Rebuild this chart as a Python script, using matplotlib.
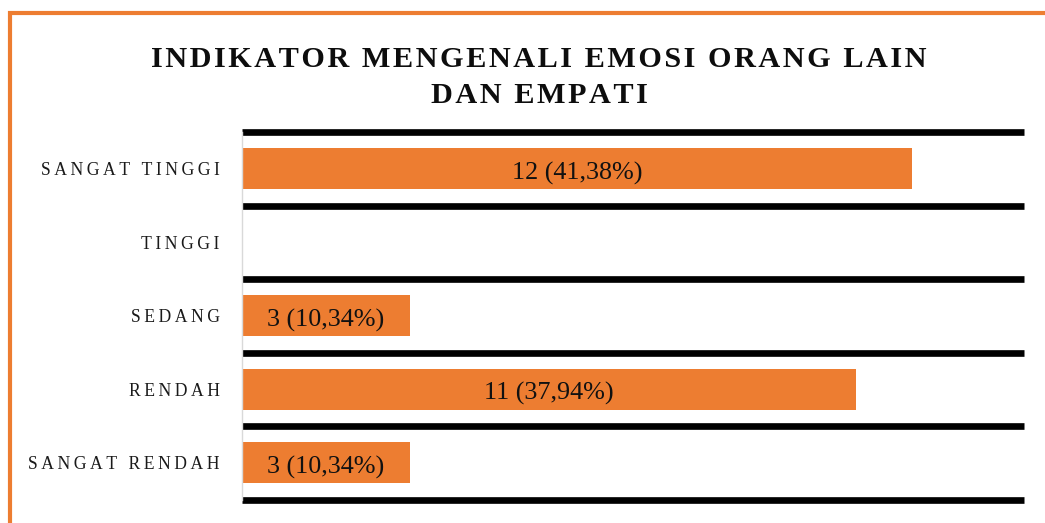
import matplotlib.pyplot as plt
from matplotlib.lines import Line2D

# data (top to bottom as in the chart)
categories = ["SANGAT TINGGI", "TINGGI", "SEDANG", "RENDAH", "SANGAT RENDAH"]
counts = [12, 0, 3, 11, 3]
labels = ["12 (41,38%)", "", "3 (10,34%)", "11 (37,94%)", "3 (10,34%)"]
title = "INDIKATOR MENGENALI EMOSI ORANG LAIN\nDAN EMPATI"

orange = "#ED7D31"
serif = ["Liberation Serif", "DejaVu Serif"]


def spaced(s, sep):
    # fake letter spacing
    return "\n".join(sep.join(line) for line in s.split("\n"))


fig = plt.figure(figsize=(10.45, 5.23), dpi=100)
ax = fig.add_axes([242 / 1045, 0.0449, (1024 - 242) / 1045, 0.7476 - 0.0449])

ypos = list(range(len(categories)))
ax.barh(ypos, counts, height=0.56, color=orange, zorder=2)
for y, c, lab in zip(ypos, counts, labels):
    if lab:
        ax.text(c / 2, y + 0.06, lab, ha="center", va="center", fontsize=18.8,
                family=serif, color="#111111", zorder=3)

ax.set_xlim(0, 14)
ax.set_ylim(len(categories) - 0.5, -0.5)

# thick black separators between categories
for b in range(len(categories) + 1):
    ax.axhline(b - 0.5, color="black", lw=4.8, clip_on=False, zorder=1,
               solid_capstyle="butt")

ax.set_yticks(ypos)
ax.set_yticklabels([spaced(c, "\u2009") for c in categories],
                   fontsize=12.7, family=serif, color="#1a1a1a")
ax.tick_params(axis="y", length=0, pad=16)
ax.set_xticks([])
for side in ["top", "right", "bottom"]:
    ax.spines[side].set_visible(False)
ax.spines["left"].set_color("#d9d9d9")
ax.spines["left"].set_linewidth(1)

fig.text(0.516, 0.852, spaced(title, "\u200a"), ha="center", va="center",
         fontsize=21.8, fontweight="bold", family=serif, color="#0d0d0d",
         linespacing=1.45)

# orange frame on the left and top
fig.add_artist(Line2D([9.5 / 1045, 9.5 / 1045, 1], [0, 1 - 13 / 523, 1 - 13 / 523],
                      transform=fig.transFigure, color=orange, lw=3,
                      solid_joinstyle="miter"))

fig.savefig("out.png", dpi=100)
